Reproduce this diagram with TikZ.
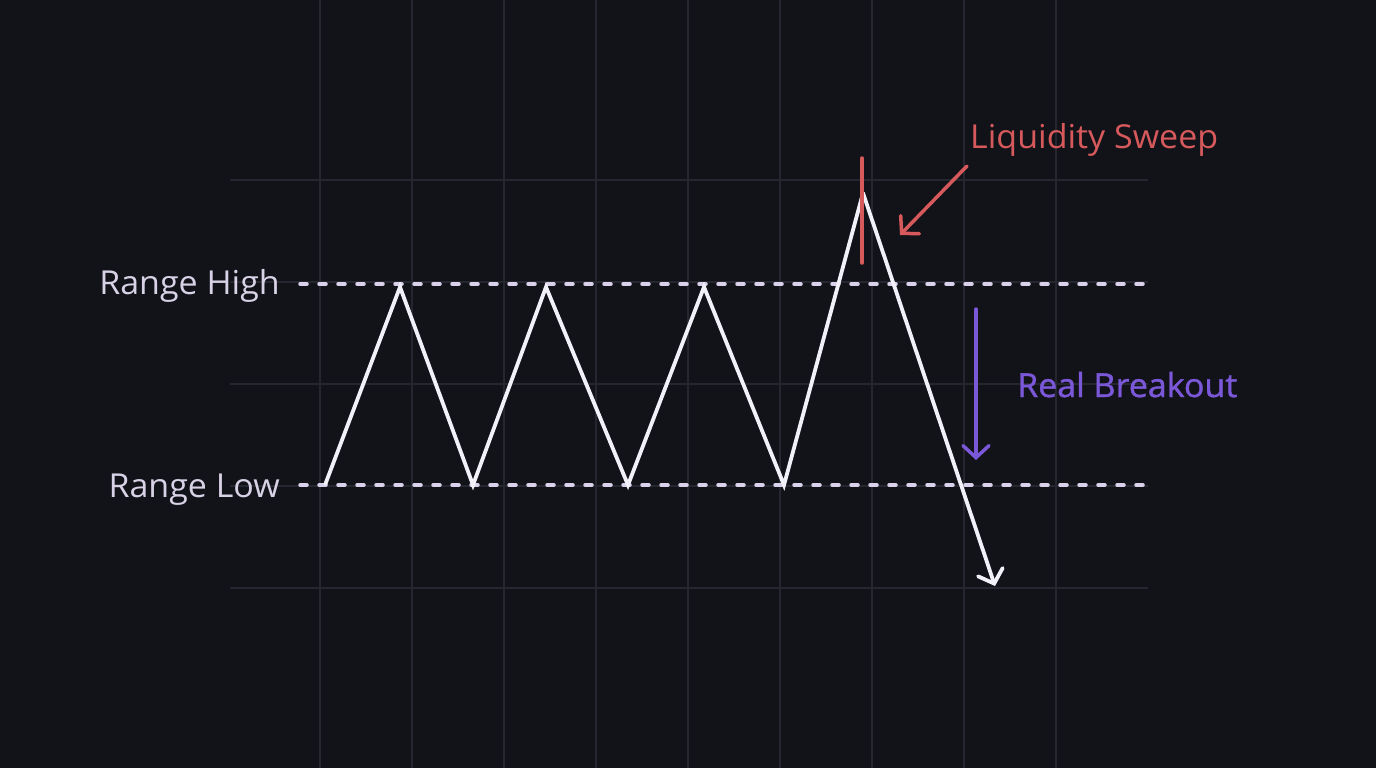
\documentclass[tikz,border=0pt]{standalone}
\usepackage{fontspec}
\setmainfont[FakeStretch=1.03]{Open Sans}
\newfontfamily\medfont[FakeStretch=1.03,FakeBold=1.2]{Open Sans}
\usetikzlibrary{arrows.meta}
\definecolor{bg}{HTML}{121219}
\definecolor{gridc}{HTML}{262631}
\definecolor{dashc}{HTML}{D9D2EA}
\definecolor{linec}{HTML}{F2F0F8}
\definecolor{labc}{HTML}{D8D2E6}
\definecolor{redc}{HTML}{D65A5C}
\definecolor{purc}{HTML}{7A58D8}
\tikzset{
  gridline/.style={draw=gridc, line width=1.3pt},
  rangeline/.style={draw=dashc, line width=3.5pt, line cap=round, dash pattern=on 7pt off 12pt},
  price/.style={draw=linec, line width=3.8pt, line join=miter},
  lab/.style={font=\fontsize{33}{38}\selectfont, inner sep=0pt},
  barb/.style={-{Straight Barb[length=12pt,width=26pt,line cap=round]}, line cap=round},
}
\begin{document}
\begin{tikzpicture}[x=1pt,y=-1pt]
\fill[bg] (0,0) rectangle (1376,768);
\useasboundingbox (0,0) rectangle (1376,768);
% grid
\foreach \gx in {320,412,504,596,688,780,872,964,1056} \draw[gridline] (\gx,0) -- (\gx,768);
\foreach \gy in {180,282,384,486,588} \draw[gridline] (230,\gy) -- (1148,\gy);
% range lines
\coordinate (hiL) at (300,284); \coordinate (hiR) at (1146,284);
\coordinate (loL) at (300,485); \coordinate (loR) at (1146,485);
\draw[rangeline] (hiL) -- (hiR);
\draw[rangeline] (loL) -- (loR);
\node[lab, text=labc, anchor=base east] (rh) at (280,294) {Range High};
\node[lab, text=labc, anchor=base east] (rl) at (280,497) {Range Low};
% price path
\coordinate (p0) at (325,485);
\coordinate (p1) at (400,287);
\coordinate (p2) at (473,485);
\coordinate (p3) at (546,287);
\coordinate (p4) at (628,485);
\coordinate (p5) at (704,287);
\coordinate (p6) at (784,485);
\coordinate (p7) at (863,193);
\coordinate (p8) at (995,586);
\draw[price] (p0) -- (p1) -- (p2) -- (p3) -- (p4) -- (p5) -- (p6) -- (p7);
\draw[price, barb] (p7) -- (p8);
% sweep marker
\coordinate (s1) at (862,158); \coordinate (s2) at (862,263);
\draw[draw=redc, line width=3.5pt, line cap=round] (s1) -- (s2);
\node[lab, text=redc, anchor=base west] (ls) at (970,148) {Liquidity Sweep};
\coordinate (ra) at (967,166); \coordinate (rb) at (900,235);
\draw[draw=redc, line width=3.5pt, barb] (ra) -- (rb);
% breakout
\coordinate (ba) at (976,309); \coordinate (bb) at (976,460);
\draw[draw=purc, line width=3.5pt, barb] (ba) -- (bb);
\node[lab, text=purc, anchor=base west] (rbk) at (1017,397) {\medfont Real Breakout};
\end{tikzpicture}
\end{document}
